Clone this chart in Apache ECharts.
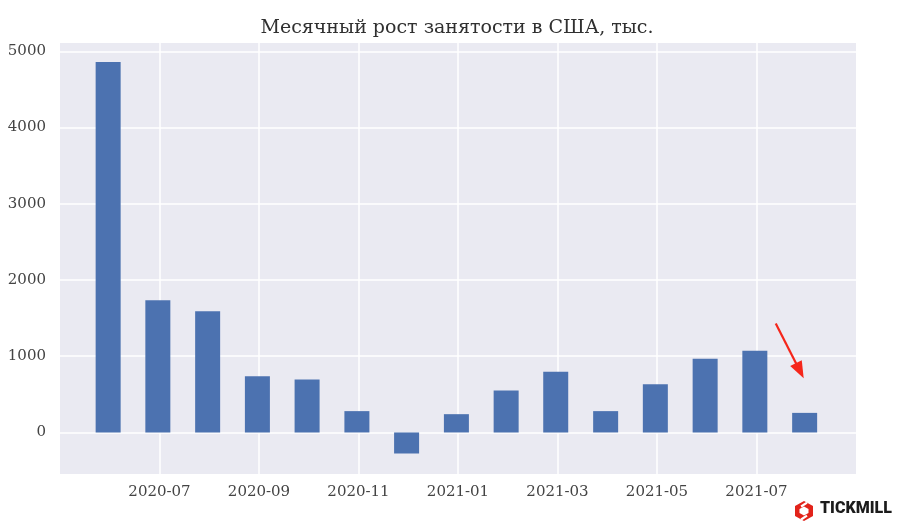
<!DOCTYPE html>
<html>
<head>
<meta charset="utf-8">
<script src="https://cdn.jsdelivr.net/npm/echarts@6/dist/echarts.min.js"></script>
<style>html,body{margin:0;padding:0;background:#fff}#c{width:903px;height:527px}</style>
</head>
<body>
<div id="c"></div>
<script>
// Data (thousands of jobs), bars placed at month-end dates
var barDates = ['2020-05-31','2020-06-30','2020-07-31','2020-08-31','2020-09-30','2020-10-31','2020-11-30','2020-12-31','2021-01-31','2021-02-28','2021-03-31','2021-04-30','2021-05-31','2021-06-30','2021-07-31'];
var barValues = [4860, 1736, 1592, 739, 695, 280, -276, 240, 551, 795, 280, 634, 966, 1071, 257];
var xTickLabels = ['2020-07','2020-09','2020-11','2021-01','2021-03','2021-05','2021-07'];
var yTickValues = [0, 1000, 2000, 3000, 4000, 5000];
var titleText = 'Месячный рост занятости в США, тыс.';
var arrowFrom = ['2021-07-13', 1430];
var arrowTo = ['2021-07-28', 810];

// month position relative to 2020-05-01
function pos(s) {
  var p = s.split('-').map(Number);
  var idx = (p[0] - 2020) * 12 + (p[1] - 5);
  if (p.length > 2) {
    var dim = new Date(p[0], p[1], 0).getDate();
    idx += (p[2] - 1) / dim;
  }
  return idx;
}
var xTickPos = xTickLabels.map(pos);
var labelByPos = {};
xTickLabels.forEach(function (l) { labelByPos[pos(l)] = l; });

var serif = "'DejaVu Serif', serif";
var chart = echarts.init(document.getElementById('c'));
chart.setOption({
  animation: false,
  backgroundColor: '#ffffff',
  title: {
    text: titleText,
    left: 452, top: 14, textAlign: 'center',
    textStyle: { fontFamily: serif, fontSize: 19, fontWeight: 'normal', color: '#303030' }
  },
  grid: { left: 60, top: 43, right: 47, bottom: 53, show: true, backgroundColor: '#EAEAF2', borderWidth: 0 },
  xAxis: {
    type: 'value', min: 0, max: 16,
    axisLine: { show: false },
    axisTick: { show: false, customValues: xTickPos },
    axisLabel: {
      customValues: xTickPos,
      fontFamily: serif, fontSize: 15, color: '#444', margin: 11,
      formatter: function (v) { return labelByPos[v] || ''; }
    },
    splitLine: { show: true, lineStyle: { color: '#ffffff', width: 1.5 } }
  },
  yAxis: {
    type: 'value', min: -545, max: 5110,
    axisLine: { show: false },
    axisTick: { show: false, customValues: yTickValues },
    axisLabel: {
      customValues: yTickValues, fontFamily: serif, fontSize: 15, color: '#444', margin: 14,
      formatter: function (v) { return String(v); }
    },
    splitLine: { show: true, lineStyle: { color: '#ffffff', width: 1.5 } }
  },
  series: [{
    type: 'bar',
    barWidth: 25,
    itemStyle: { color: '#4C72B0' },
    data: barDates.map(function (d, i) { return [pos(d), barValues[i]]; }),
    markLine: {
      silent: true,
      symbol: ['none', 'triangle'],
      symbolSize: [13, 17],
      label: { show: false },
      lineStyle: { color: '#F5261B', width: 2.2, type: 'solid' },
      data: [[{ coord: [pos(arrowFrom[0]), arrowFrom[1]] }, { coord: [pos(arrowTo[0]), arrowTo[1]] }]]
    }
  }],
  graphic: [{
    type: 'group', left: 795, top: 501,
    children: [
      { type: 'polygon', shape: { points: [[9,0],[18,5],[18,15],[9,20],[0,15],[0,5]] }, style: { fill: '#E2231A' } },
      { type: 'polygon', shape: { points: [[9,5.5],[13.5,8],[13.5,12],[9,14.5],[4.5,12],[4.5,8]] }, style: { fill: '#ffffff' } },
      { type: 'rect', shape: { x: 8, y: 0, width: 2.2, height: 7 }, style: { fill: '#ffffff' }, rotation: -1.0, originX: 9, originY: 3.5 },
      { type: 'rect', shape: { x: 8, y: 13, width: 2.2, height: 7 }, style: { fill: '#ffffff' }, rotation: -1.0, originX: 9, originY: 16.5 }
    ]
  }, {
    type: 'text', left: 820, top: 501,
    style: { text: 'TICKMILL', fontFamily: "Roboto, 'Open Sans', sans-serif", fontWeight: 900, fontSize: 16, fill: '#1b1b1b' }
  }]
});
</script>
</body>
</html>
